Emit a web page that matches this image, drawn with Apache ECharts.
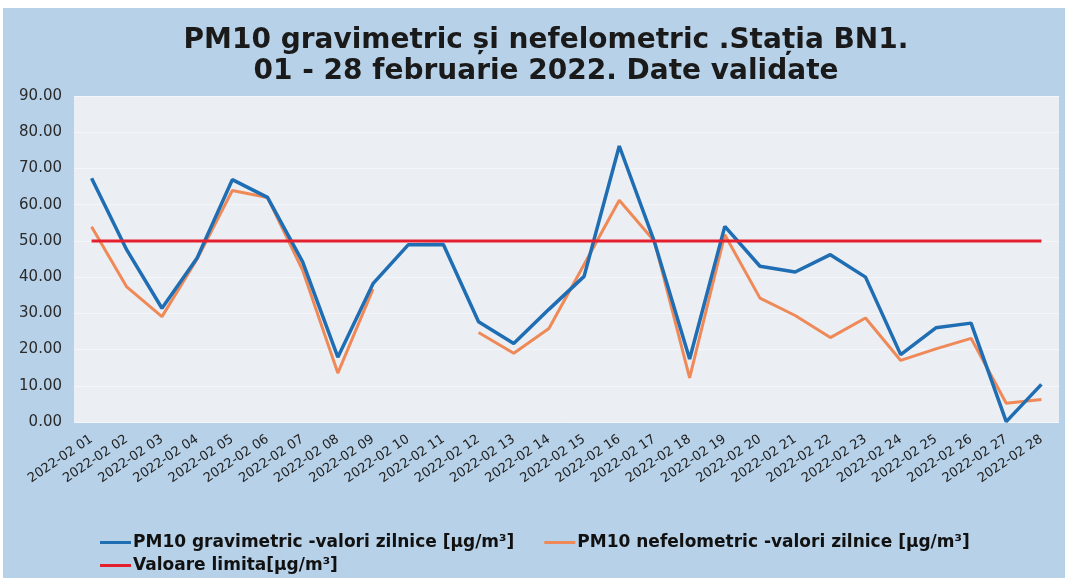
<!DOCTYPE html>
<html>
<head>
<meta charset="utf-8">
<script src="https://cdn.jsdelivr.net/npm/echarts@6/dist/echarts.min.js"></script>
<style>
  html,body{margin:0;padding:0;background:#fff;}
  #chart{position:absolute;left:3px;top:8px;width:1062px;height:570px;}
</style>
</head>
<body>
<div id="chart"></div>
<script>
// date labels on x axis
const days = [
  '2022-02 01','2022-02 02','2022-02 03','2022-02 04','2022-02 05','2022-02 06','2022-02 07',
  '2022-02 08','2022-02 09','2022-02 10','2022-02 11','2022-02 12','2022-02 13','2022-02 14',
  '2022-02 15','2022-02 16','2022-02 17','2022-02 18','2022-02 19','2022-02 20','2022-02 21',
  '2022-02 22','2022-02 23','2022-02 24','2022-02 25','2022-02 26','2022-02 27','2022-02 28'
]
// PM10 gravimetric - daily values
const gravimetric = [
  67.3, 47.5, 31.4, 45.3, 66.9, 62.0, 44.2,
  17.9, 38.2, 48.9, 49.0, 27.7, 21.7, 31.1,
  40.2, 76.2, 49.7, 17.4, 54.0, 43.0, 41.4,
  46.2, 40.0, 18.6, 26.0, 27.3, 0.1, 10.4
]
// PM10 nefelometric - daily values (gap on 10-11)
const nefelometric = [
  53.9, 37.3, 29.1, 45.0, 63.9, 62.0, 41.9,
  13.5, 36.7, null, null, 24.7, 19.0, 25.8,
  43.5, 61.2, 49.9, 12.2, 51.7, 34.2, 29.4,
  23.3, 28.7, 17.0, 20.2, 23.1, 5.2, 6.2
]
// limit value
const limita = days.map(() => 50)
const yTicks = [0, 10, 20, 30, 40, 50, 60, 70, 80, 90]

const names = [
  'PM10 gravimetric -valori zilnice [µg/m³]',
  'PM10 nefelometric -valori zilnice [µg/m³]',
  'Valoare limita[µg/m³]'
]

let chart = echarts.init(document.getElementById('chart'))
let font = 'DejaVu Sans, Liberation Sans, sans-serif'
let legendText = {fontSize:17, fontWeight:'bold', color:'#111', fontFamily:font, padding:[0,0,0,-3]}

let option = {
  backgroundColor:'#b7d1e8',
  title:{
    text:'PM10 gravimetric și nefelometric .Stația BN1.\n01 - 28 februarie 2022. Date validate',
    left:538,
    top:12,
    textAlign:'center',
    textStyle:{
      fontSize:28,
      fontWeight:'bold',
      lineHeight:31,
      color:'#1a1a1a',
      fontFamily:font
    }
  },
  grid:{
    left:71,
    right:6,
    top:88,
    bottom:156
  },
  legend:[
    {
      data:[names[0], names[1]],
      left:92,
      top:521,
      icon:'rect',
      itemWidth:31,
      itemHeight:3,
      itemGap:30,
      textStyle:legendText
    },
    {
      data:[names[2]],
      left:92,
      top:544,
      icon:'rect',
      itemWidth:31,
      itemHeight:3,
      textStyle:legendText
    }
  ],
  xAxis:{
    type:'category',
    data:days,
    boundaryGap:true,
    axisLine:{show:false},
    axisTick:{show:false},
    axisLabel:{
      rotate:34,
      margin:16,
      fontSize:13,
      color:'#222',
      fontFamily:font,
      interval:0
    }
  },
  yAxis:{
    type:'value',
    min:yTicks[0],
    max:yTicks[yTicks.length-1],
    interval:10,
    axisLine:{show:false},
    axisTick:{show:false},
    splitLine:{lineStyle:{color:'#f4f6f9', width:1}},
    splitArea:{show:false},
    axisLabel:{
      margin:12,
      fontSize:15,
      color:'#2a2a2a',
      fontFamily:font,
      formatter:(v)=>v.toFixed(2)
    }
  },
  series:[
    {
      name:names[0],
      type:'line',
      data:gravimetric,
      symbol:'none',
      z:3,
      lineStyle:{color:'#1f6db2', width:3.5},
      itemStyle:{color:'#1f6db2'}
    },
    {
      name:names[1],
      type:'line',
      data:nefelometric,
      symbol:'none',
      z:2,
      lineStyle:{color:'#ef8a58', width:3},
      itemStyle:{color:'#ef8a58'}
    },
    {
      name:names[2],
      type:'line',
      data:limita,
      symbol:'none',
      z:4,
      lineStyle:{color:'#e5202e', width:3},
      itemStyle:{color:'#e5202e'}
    }
  ]
}
chart.setOption(option)

// plot background
let rect = chart.getModel().getComponent('grid').coordinateSystem.getRect()
chart.setOption({
  graphic:[{
    type:'rect',
    shape:{x:rect.x, y:rect.y, width:rect.width, height:rect.height},
    style:{fill:'#ebeef3'},
    z:-1,
    silent:true
  }]
})
</script>
</body>
</html>
